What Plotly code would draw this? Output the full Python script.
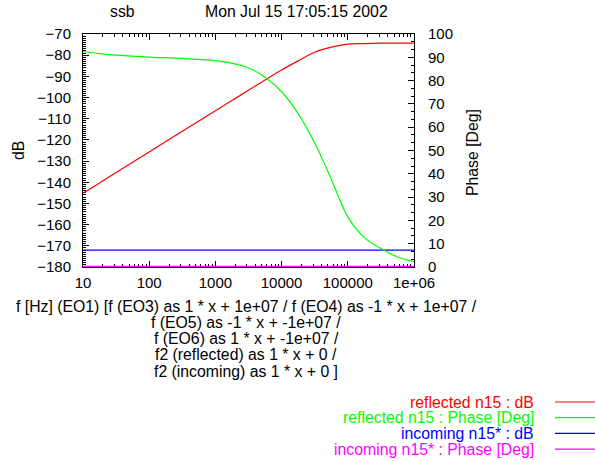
import plotly.graph_objects as go

# ---- data ----
freq_hz = [10, 17.78, 31.62, 100, 316.2, 1000, 1778, 3162, 5623, 10000,
           17783, 31623, 56234, 100000, 177828, 316228, 562341, 1000000]
reflected_db = [-145.2, -140.3, -135.4, -125.7, -115.9, -106.2, -101.4, -96.6,
                -91.7, -87.0, -82.7, -78.6, -76.2, -74.8, -74.5, -74.35, -74.3, -74.3]
reflected_phase = [92.5, 91.6, 90.9, 90.1, 89.5, 88.6, 87.5, 85.5,
                   81.4, 75.2, 65.8, 53.2, 37.7, 21.5, 12.6, 7.9, 4.3, 2.3]
incoming_freq = [10, 1000000]
incoming_db = [-172.0, -172.0]
incoming_phase = [0.0, 0.0]

x_tickvals = [10, 100, 1000, 10000, 100000, 1000000]
x_ticktext = ["10", "100", "1000", "10000", "100000", "1e+06"]
left_ticks = [-70, -80, -90, -100, -110, -120, -130, -140, -150, -160, -170, -180]
right_ticks = [0, 10, 20, 30, 40, 50, 60, 70, 80, 90, 100]

title_left = "ssb"
title_right = "Mon Jul 15 17:05:15 2002"
xlabel_lines = [
    "f [Hz] (EO1) [f (EO3) as 1 * x + 1e+07 / f (EO4) as -1 * x + 1e+07 /",
    "f (EO5) as -1 * x + -1e+07 /",
    "f (EO6) as 1 * x + -1e+07 /",
    "f2 (reflected) as 1 * x + 0 /",
    "f2 (incoming) as 1 * x + 0 ]",
]
legend_names = ["reflected n15 : dB", "reflected n15 : Phase [Deg]",
                "incoming n15* : dB", "incoming n15* : Phase [Deg]"]
colors = ["#ff0000", "#00ff00", "#0000ff", "#ff00ff"]

FONT = "Liberation Sans, Arial, Helvetica, sans-serif"
TXT = 15.8
W, H = 595, 461
L, R, T, B = 83, 181, 34, 194
PW, PH = W - L - R, H - T - B

fig = go.Figure()
fig.add_trace(go.Scatter(x=freq_hz, y=reflected_db, mode="lines", line=dict(color=colors[0], width=1.2, shape="spline"), yaxis="y"))
fig.add_trace(go.Scatter(x=freq_hz, y=reflected_phase, mode="lines", line=dict(color=colors[1], width=1.2, shape="spline"), yaxis="y2"))
fig.add_trace(go.Scatter(x=incoming_freq, y=incoming_db, mode="lines", line=dict(color=colors[2], width=1.2), yaxis="y"))
fig.add_trace(go.Scatter(x=incoming_freq, y=incoming_phase, mode="lines", line=dict(color=colors[3], width=2.5), yaxis="y2"))

minor_x = [m * 10 ** d for d in range(1, 6) for m in range(2, 10)]

fig.update_layout(
    width=W, height=H,
    margin=dict(l=L, r=R, t=T, b=B, autoexpand=False),
    paper_bgcolor="white", plot_bgcolor="white",
    showlegend=False,
    font=dict(family=FONT, size=15, color="black"),
    xaxis=dict(type="log", range=[1, 6], tickvals=x_tickvals, ticktext=x_ticktext,
               ticks="inside", ticklen=6, tickcolor="black", showline=True, linecolor="black",
               linewidth=1, mirror="ticks", showgrid=False, zeroline=False,
               layer="below traces", ticklabelstandoff=2,
               minor=dict(tickvals=minor_x, ticks="inside", ticklen=3, tickcolor="black", showgrid=False)),
    yaxis=dict(range=[-180, -70], tickvals=left_ticks, ticks="inside", ticklen=6,
               tickcolor="black", showline=True, linecolor="black", linewidth=1,
               showgrid=False, zeroline=False, layer="below traces", ticklabelstandoff=8,
               minor=dict(dtick=1, ticks="inside", ticklen=3, tickcolor="black", showgrid=False)),
    yaxis2=dict(range=[0, 100], tickvals=right_ticks, overlaying="y", side="right",
                ticks="inside", ticklen=6, tickcolor="black", showline=True, linecolor="black",
                linewidth=1, showgrid=False, zeroline=False, layer="below traces",
                ticklabelstandoff=10,
                minor=dict(dtick=10 / 3, ticks="inside", ticklen=3, tickcolor="black", showgrid=False)),
)

def px_x(px):
    return (px - L) / PW

def px_y(py):
    return (H - B - py) / PH

ann = []
ann.append(dict(text=title_left, x=px_x(122), y=px_y(11)))
ann.append(dict(text=title_right, x=px_x(296), y=px_y(11)))
ann.append(dict(text="dB", x=px_x(18), y=px_y(151), textangle=-90))
ann.append(dict(text="Phase [Deg]", x=px_x(472), y=px_y(153), textangle=-90))
for i, line in enumerate(xlabel_lines):
    ann.append(dict(text=line, x=px_x(246), y=px_y(306 + i * 16.3)))
for a in ann:
    a.update(xref="paper", yref="paper", xanchor="center", yanchor="middle",
             showarrow=False, font=dict(family=FONT, size=TXT, color="black"))
for i, (name, c) in enumerate(zip(legend_names, colors)):
    yy = 402 + i * 15.7
    ann.append(dict(text=name, x=px_x(536), y=px_y(yy), xref="paper", yref="paper",
                    xanchor="right", yanchor="middle", showarrow=False,
                    font=dict(family=FONT, size=TXT, color=c)))
    fig.add_shape(type="line", xref="paper", yref="paper",
                  x0=px_x(555), x1=px_x(595), y0=px_y(yy), y1=px_y(yy),
                  line=dict(color=c, width=1.2))
fig.update_layout(annotations=ann)

fig.write_html("out.html", config={"displayModeBar": False},
               post_script="document.body.style.margin='0';")
